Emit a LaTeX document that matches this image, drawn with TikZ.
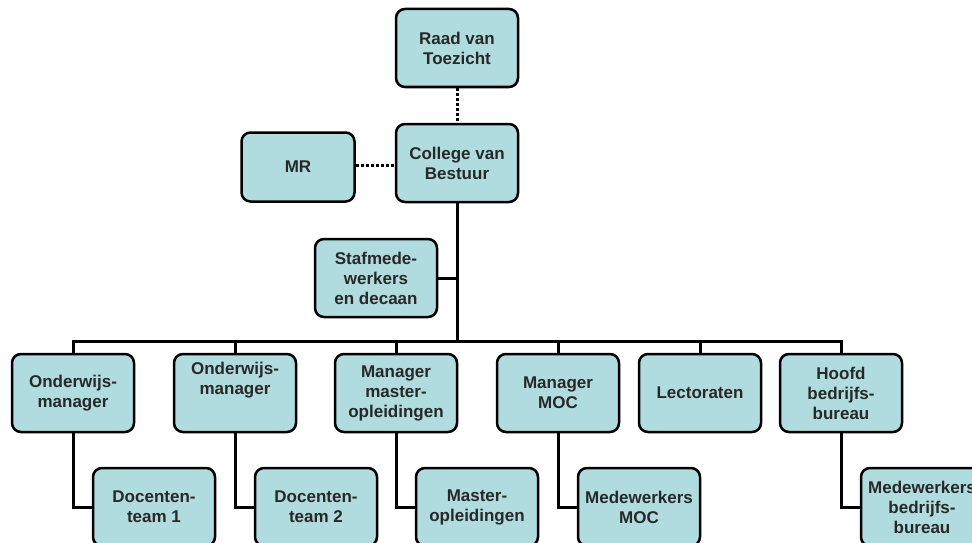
\documentclass[tikz,border=0pt]{standalone}
\usepackage{fontspec}
\setmainfont{Liberation Sans}
\usetikzlibrary{positioning}

\definecolor{boxblue}{RGB}{176,220,223}
\definecolor{inkgray}{RGB}{40,40,40}

\tikzstyle{unit} = [rectangle, rounded corners=9pt, minimum width=122pt, minimum height=78pt, align=center, draw=black, line width=2.5pt, fill=boxblue, text=inkgray, font=\fontsize{17}{20}\selectfont\bfseries, inner sep=1pt]
\tikzstyle{small} = [unit, minimum width=113pt, minimum height=69pt]
\tikzstyle{line} = [line width=3pt]
\tikzstyle{dotline} = [line width=3pt, dash pattern=on 3pt off 2pt]

\begin{document}
\begin{tikzpicture}[x=1pt, y=-1pt, node distance=115pt]
        \useasboundingbox (0,0) rectangle (972,543);

        % Nodes
        \node (raad) [unit] at (457,48) {Raad van\\Toezicht};
        \node (college) [unit, below of=raad] {College van\\Bestuur};
        \node (mr) [small] at (298,167) {MR};
        \node (staf) [unit] at (376,278) {Stafmede-\\werkers\\en decaan};

        \node (om1) [unit] at (73,393) {Onderwijs-\\manager};
        \node (om2) [unit] at (235,393) {Onderwijs-\\manager\\[10pt]};
        \node (master) [unit] at (396,393) {Manager\\master-\\opleidingen};
        \node (moc) [unit] at (558,393) {Manager\\MOC};
        \node (lect) [unit] at (700,393) {Lectoraten};
        \node (hoofd) [unit] at (841,393) {Hoofd\\bedrijfs-\\bureau};

        \node (dt1) [unit] at (154,507) {Docenten-\\team 1};
        \node (dt2) [unit] at (316,507) {Docenten-\\team 2};
        \node (mo) [unit] at (477,507) {Master-\\opleidingen};
        \node (mmoc) [unit] at (639,507) {Medewerkers\\MOC};
        \node (mbb) [unit] at (922,507) {Medewerkers\\bedrijfs-\\bureau};

        \coordinate (bus) at (0,341);

        % Arrows
        \draw [dotline] (raad) -- (college);
        \draw [dotline] (mr.east |- 0,165) -- (college.west |- 0,165);
        \draw [line] (college.south) -- (college.south |- bus);
        \draw [line] (staf.east) -- (staf.east -| college.south);
        \draw [line] (om1.north) |- (hoofd.north |- bus) -- (hoofd.north);
        \draw [line] (om2.north) -- (om2.north |- bus);
        \draw [line] (master.north) -- (master.north |- bus);
        \draw [line] (moc.north) -- (moc.north |- bus);
        \draw [line] (lect.north) -- (lect.north |- bus);

        \draw [line] (om1.south) |- (dt1.west);
        \draw [line] (om2.south) |- (dt2.west);
        \draw [line] (master.south) |- (mo.west);
        \draw [line] (moc.south) |- (mmoc.west);
        \draw [line] (hoofd.south) |- (mbb.west);
    \end{tikzpicture}
\end{document}
